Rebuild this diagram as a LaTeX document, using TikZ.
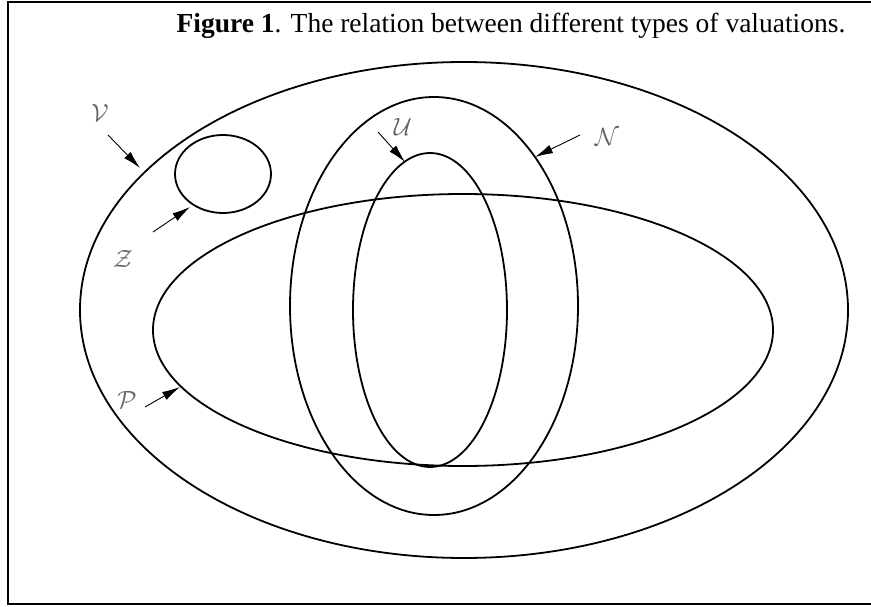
\documentclass[tikz,border=0pt]{standalone}
\usepackage{amsmath,amssymb}
\usepackage{fontspec}
\setmainfont{Liberation Serif}
\usetikzlibrary{arrows.meta,positioning}

\begin{document}
\begin{tikzpicture}[x=1pt,y=-1pt,>={Latex[length=18pt,width=9pt]},
  every node/.style={font=\fontsize{28}{30}\selectfont,text=black!60},
  set/.style={line width=1.8pt},ptr/.style={->,line width=0.9pt}]
\useasboundingbox (0,0) rectangle (871,607);
\draw[line width=2pt] (871,2) -| (8,604) -- (871,604);
\node[anchor=base,text=black,font=\fontsize{27.5}{32}\selectfont] (title) at (511,33)
 {\textbf{Figure 1}. The relation between different types of valuations.};
% the sets
\draw[set] (464,310) ellipse [x radius=384,y radius=248];
\draw[set] (463,330) ellipse [x radius=310,y radius=136];
\draw[set] (434,306) ellipse [x radius=144,y radius=209];
\draw[set] (430,310) ellipse [x radius=77,y radius=157];
\draw[set] (223,174) ellipse [x radius=48,y radius=39];
% labels and pointers
\node (lv) at (100,113) {$\mathcal{V}$};
\node (lz) at (123,259) {$\mathcal{Z}$};
\node (lp) at (127,400) {$\mathcal{P}$};
\node (lu) at (403,127) {$\mathcal{U}$};
\node (ln) at (607,137) {$\mathcal{N}$};
\coordinate (tv) at (108,135);\coordinate (hv) at (140,168);
\coordinate (tz) at (153,232);\coordinate (hz) at (190,207);
\coordinate (tp) at (145,407);\coordinate (hp) at (180,387);
\coordinate (tu) at (378,132);\coordinate (hu) at (405,162);
\coordinate (tn) at (580,135);\coordinate (hn) at (535,157);
\foreach \s in {v,z,p,u,n} \draw[ptr] (t\s)--(h\s);
\end{tikzpicture}
\end{document}
